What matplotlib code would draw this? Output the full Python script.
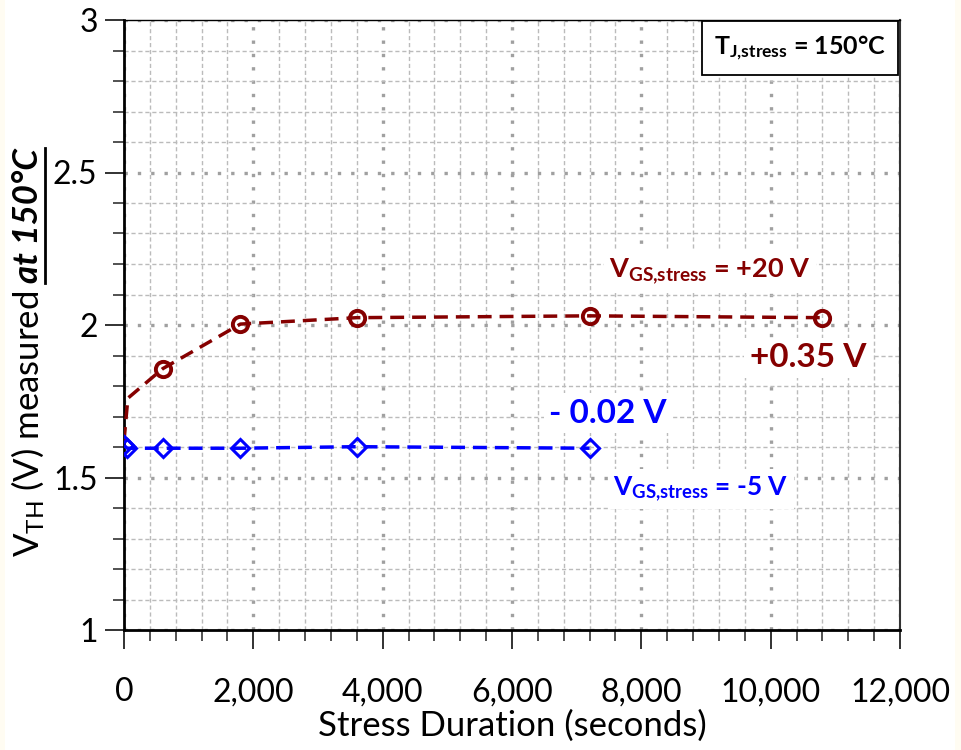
import numpy as np
import matplotlib.pyplot as plt
from matplotlib.ticker import MultipleLocator, FuncFormatter
from matplotlib.lines import Line2D

plt.rcParams['font.family'] = ['Lato', 'DejaVu Sans']
plt.rcParams['mathtext.fontset'] = 'custom'
plt.rcParams['mathtext.rm'] = 'Lato'
plt.rcParams['mathtext.it'] = 'Lato:italic'
plt.rcParams['mathtext.bf'] = 'Lato:bold'

# data
t_pos = [0, 60, 600, 1800, 3600, 7200, 10800]
vth_pos = [1.62, 1.76, 1.857, 2.003, 2.024, 2.030, 2.024]
t_neg = [0, 50, 600, 1800, 3600, 7200]
vth_neg = [1.605, 1.596, 1.596, 1.596, 1.601, 1.596]

red = '#850000'
blue = '#0000FF'

fig = plt.figure(figsize=(9.61, 7.5), dpi=100, facecolor='#FFFCF2')
fig.patches.append(plt.Rectangle((5 / 961, 0), 950 / 961, 1, transform=fig.transFigure,
                                 facecolor='white', edgecolor='none', zorder=-10))
ax = fig.add_axes([124 / 961, 1 - 630 / 750, 776 / 961, 610 / 750])

ax.plot(t_pos, vth_pos, color=red, ls=(0, (4, 2.3)), lw=2.5, marker='o', ms=11,
        mfc='none', mew=2.8, markevery=[2, 3, 4, 5, 6], zorder=4)
ax.plot(t_neg, vth_neg, color=blue, ls=(0, (4, 2.3)), lw=2.5, marker='D', ms=9.5,
        mfc='none', mew=2.2, zorder=5)

ax.set_xlim(0, 12000)
ax.set_ylim(1, 3)
ax.xaxis.set_major_locator(MultipleLocator(2000))
ax.xaxis.set_minor_locator(MultipleLocator(400))
ax.yaxis.set_major_locator(MultipleLocator(0.5))
ax.yaxis.set_minor_locator(MultipleLocator(0.1))
ax.xaxis.set_major_formatter(FuncFormatter(lambda v, p: f'{int(v):,}'))
ax.yaxis.set_major_formatter(FuncFormatter(lambda v, p: f'{v:g}'))

ax.grid(True, which='major', color='#A0A0A0', ls=(0, (1, 3)), lw=2.4)
ax.grid(True, which='minor', color='#BBBBBB', ls=(0, (3, 2)), lw=1.0)
ax.set_axisbelow(True)
ax.tick_params(which='major', length=14, width=1.3, labelsize=23, color='#222222', pad=5)
ax.tick_params(axis='x', which='major', pad=20)
ax.tick_params(which='minor', length=8, width=1.1, color='#222222')
ax.spines['left'].set_linewidth(2.0)
ax.spines['bottom'].set_linewidth(2.0)
ax.spines['top'].set_linewidth(1.0)
ax.spines['right'].set_linewidth(1.5)
ax.spines['right'].set_color('#333333')

ax.set_xlabel('Stress Duration (seconds)', fontsize=25, labelpad=2)

# annotations
box = dict(facecolor='white', edgecolor='none', pad=4)
ax.text(9062, 2.177, r'V$_{\mathbf{GS{,}stress}}$ = +20 V', color=red, fontsize=19.5,
        fontweight='bold', ha='center', va='center', bbox=box, zorder=6)
ax.text(10577, 1.892, '+0.35 V', color=red, fontsize=24, fontweight='bold',
        ha='center', va='center', bbox=box, zorder=6)
ax.text(7485, 1.711, '- 0.02 V', color=blue, fontsize=24, fontweight='bold',
        ha='center', va='center', bbox=box, zorder=6)
ax.text(8923, 1.462, r'V$_{\mathbf{GS{,}stress}}$ = -5 V', color=blue, fontsize=19,
        fontweight='bold', ha='center', va='center', bbox=box, zorder=6)
ax.text(10454, 2.907, r'T$_{\mathbf{J{,}stress}}$ = 150°C', color='black', fontsize=18,
        fontweight='bold', ha='center', va='center', zorder=6,
        bbox=dict(facecolor='white', edgecolor='black', lw=1.3, pad=9))

# y label in two pieces, the second bold italic and underlined
fig.canvas.draw()
r = fig.canvas.get_renderer()
t1 = fig.text(28 / 961, 1 - 557 / 750, r'V$_{\mathregular{TH}}$ (V) measured',
              rotation=90, fontsize=25, ha='left', va='center', rotation_mode='anchor')
bb1 = t1.get_window_extent(r)
t2 = fig.text(28 / 961, (bb1.y1 + 8) / fig.bbox.height, 'at 150°C', rotation=90, fontsize=25,
              fontweight='bold', style='italic', ha='left', va='center', rotation_mode='anchor')
bb2 = t2.get_window_extent(r)
fig.add_artist(Line2D([(bb2.x1 + 1) / fig.bbox.width] * 2,
                      [bb2.y0 / fig.bbox.height, bb2.y1 / fig.bbox.height],
                      transform=fig.transFigure, color='black', lw=2.0))

fig.savefig('out.png', dpi=100)
